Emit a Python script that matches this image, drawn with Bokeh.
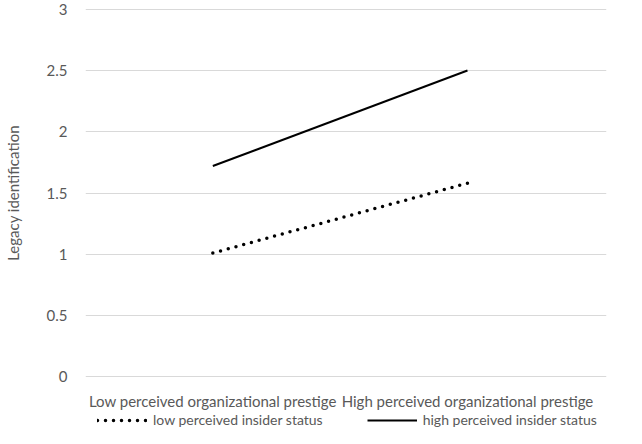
from bokeh.plotting import figure
from bokeh.layouts import column
from bokeh.models import FixedTicker, Legend, LegendItem, Range1d
from bokeh.embed import file_html
from bokeh.resources import INLINE

categories = ["Low perceived organizational prestige", "High perceived organizational prestige"]
low_insider = [1.01, 1.58]
high_insider = [1.72, 2.50]
series_names = ["low perceived insider status", "high perceived insider status"]
y_ticks = [0, 0.5, 1, 1.5, 2, 2.5, 3]
y_tick_labels = ["0", "0.5", "1", "1.5", "2", "2.5", "3"]

FONT = "Lato"
GRAY = "#595959"

x = list(range(len(categories)))
low_style = dict(line_color="black", line_width=3.5, line_dash="0 8", line_cap="round")
high_style = dict(line_color="black", line_width=2)

p = figure(width=626, height=412, output_backend="svg", toolbar_location=None,
           x_range=Range1d(-0.5, 1.546), y_range=Range1d(-0.006, 3.006),
           min_border_left=74, min_border_right=20, min_border_top=8, min_border_bottom=0)
p.outline_line_color = None
p.background_fill_color = "white"

p.line(x, low_insider, **low_style)
p.line(x, high_insider, **high_style)

p.xgrid.visible = False
p.ygrid.grid_line_color = "#d9d9d9"
p.ygrid.grid_line_width = 1

p.yaxis.ticker = FixedTicker(ticks=y_ticks)
p.yaxis.major_label_overrides = {t: l for t, l in zip(y_ticks, y_tick_labels)}
p.yaxis.axis_line_color = None
p.yaxis.major_tick_line_color = None
p.yaxis.minor_tick_line_color = None
p.yaxis.major_label_standoff = 12
p.yaxis.major_label_text_font = FONT
p.yaxis.major_label_text_font_size = "15px"
p.yaxis.major_label_text_color = GRAY
p.yaxis.axis_label = "Legacy identification"
p.yaxis.axis_label_text_font = FONT
p.yaxis.axis_label_text_font_size = "15px"
p.yaxis.axis_label_text_font_style = "normal"
p.yaxis.axis_label_text_color = GRAY
p.yaxis.axis_label_standoff = 22

p.xaxis.ticker = FixedTicker(ticks=x)
p.xaxis.major_label_overrides = {i: c for i, c in zip(x, categories)}
p.xaxis.axis_line_color = None
p.xaxis.major_tick_line_color = None
p.xaxis.minor_tick_line_color = None
p.xaxis.major_label_standoff = 8
p.xaxis.major_label_text_font = FONT
p.xaxis.major_label_text_font_size = "15px"
p.xaxis.major_label_text_color = GRAY

# legend strip (series drawn out of view so only the legend shows)
pl = figure(width=626, height=16, output_backend="svg", toolbar_location=None,
            x_range=Range1d(-0.5, 1.546), y_range=Range1d(10, 11),
            x_axis_type=None, y_axis_type=None,
            min_border_left=0, min_border_right=0, min_border_top=0, min_border_bottom=0)
pl.outline_line_color = None
pl.xgrid.visible = False
pl.ygrid.visible = False
l_low = pl.line(x, low_insider, **low_style)
l_high = pl.line(x, high_insider, **high_style)

legend = Legend(items=[LegendItem(label=series_names[0], renderers=[l_low]),
                       LegendItem(label=series_names[1], renderers=[l_high])],
                orientation="horizontal", location=(12, 0), spacing=44,
                glyph_width=50, glyph_height=12, label_height=16, label_standoff=6,
                label_text_font=FONT, label_text_font_size="14px", label_text_color=GRAY,
                border_line_color=None, background_fill_alpha=0, padding=0, margin=0)
pl.add_layout(legend, "center")

layout = column(p, pl, spacing=0)
open("out.html", "w").write(file_html(layout, INLINE))
